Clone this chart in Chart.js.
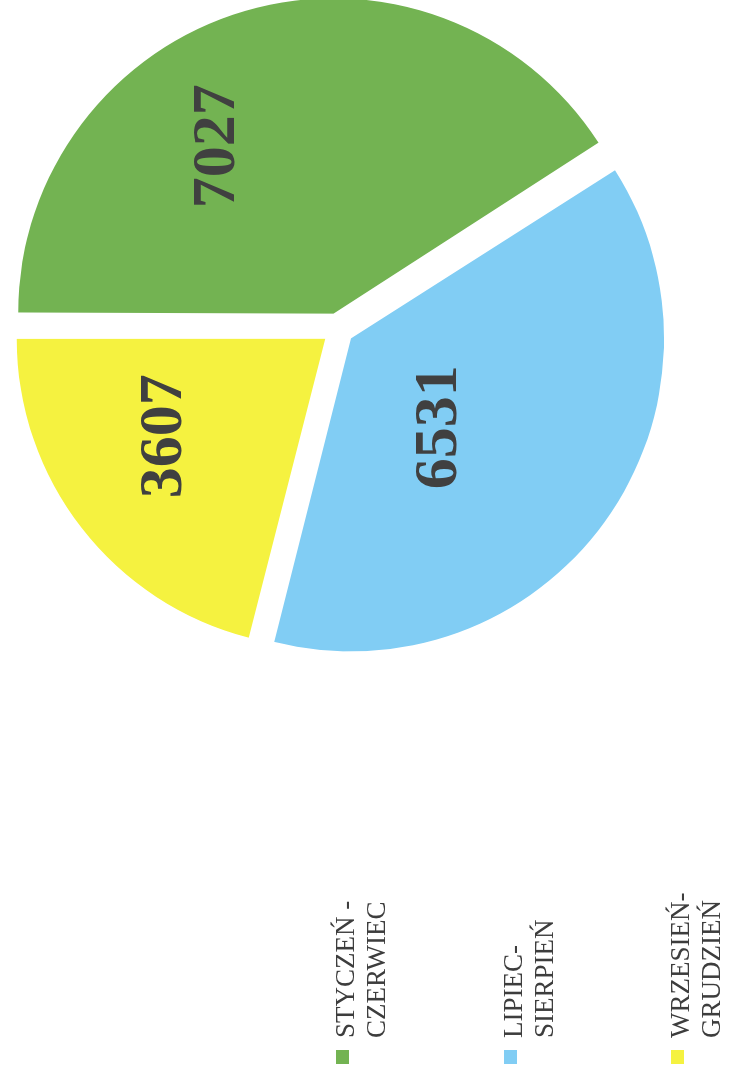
<!DOCTYPE html>
<html>
<head>
<meta charset="utf-8">
<script src="https://cdn.jsdelivr.net/npm/chart.js@4"></script>
<style>
    html, body { margin: 0; padding: 0; background: #fff; overflow: hidden; }
    #stage {
        position: absolute; left: 0; top: 0;
        width: 1074px; height: 735px;
        transform-origin: 0 0;
        transform: translate(0, 1074px) rotate(-90deg);
    }
    #chart { position: absolute; left: 0; top: 0; }
    #legend { position: absolute; left: 10px; top: 0; }
    .item { position: absolute; left: 0; display: flex; align-items: flex-start; }
    .box { width: 14px; height: 13px; margin-top: 6px; margin-right: 12px; flex: none; }
    .text { font: 27px 'Liberation Serif', serif; line-height: 31px; color: #3d3d3d; white-space: nowrap; }
</style>
</head>
<body>
<div id="stage">
    <canvas id="chart" width="1074" height="735"></canvas>
    <div id="legend"></div>
</div>
<script>
const categories = [['STYCZEŃ -', 'CZERWIEC'], ['LIPIEC-', 'SIERPIEŃ'], ['WRZESIEŃ-', 'GRUDZIEŃ']];
const values = [7027, 6531, 3607];
const colors = ['#73b352', '#81cdf4', '#f5f240'];

// value labels, placed along each slice's own angle
const sliceLabels = {
    id: 'sliceLabels',
    afterDatasetsDraw(chart, args, opts) {
        const ctx = chart.ctx;
        const meta = chart.getDatasetMeta(0);
        ctx.save();
        ctx.font = opts.font;
        ctx.fillStyle = opts.color;
        ctx.textAlign = 'center';
        ctx.textBaseline = 'middle';
        meta.data.forEach((arc, i) => {
            const p = arc.getProps(['x', 'y', 'startAngle', 'endAngle', 'outerRadius']);
            const a = (p.startAngle + p.endAngle) / 2 + opts.shift[i] * Math.PI / 180;
            const r = p.outerRadius * opts.radius[i];
            ctx.fillText(String(chart.data.datasets[0].data[i]), p.x + Math.cos(a) * r, p.y + Math.sin(a) * r);
        });
        ctx.restore();
    }
};

const chart = new Chart(document.getElementById('chart'), {
    type: 'pie',
    data: {
        labels: categories,
        datasets: [{
            data: values,
            backgroundColor: colors,
            borderWidth: 0,
            offset: 64
        }]
    },
    options: {
        responsive: false,
        animation: false,
        radius: 308,
        layout: {
            padding: { left: 416, right: 0, top: 0, bottom: 59 }
        },
        plugins: {
            legend: { display: false },
            tooltip: { enabled: false },
            sliceLabels: {
                font: 'bold 62px "Liberation Serif"',
                color: '#404040',
                shift: [-17, 8, 6],
                radius: [0.71, 0.46, 0.66]
            }
        }
    },
    plugins: [sliceLabels]
});

// html legend built from the chart data
const legend = document.getElementById('legend');
chart.data.labels.forEach((lines, i) => {
    const item = document.createElement('div');
    item.className = 'item';
    item.style.top = (330 + i * 167.5) + 'px';
    const box = document.createElement('span');
    box.className = 'box';
    box.style.background = chart.data.datasets[0].backgroundColor[i];
    const text = document.createElement('div');
    text.className = 'text';
    lines.forEach(line => {
        const d = document.createElement('div');
        d.textContent = line;
        text.appendChild(d);
    });
    item.appendChild(box);
    item.appendChild(text);
    legend.appendChild(item);
});
</script>
</body>
</html>
